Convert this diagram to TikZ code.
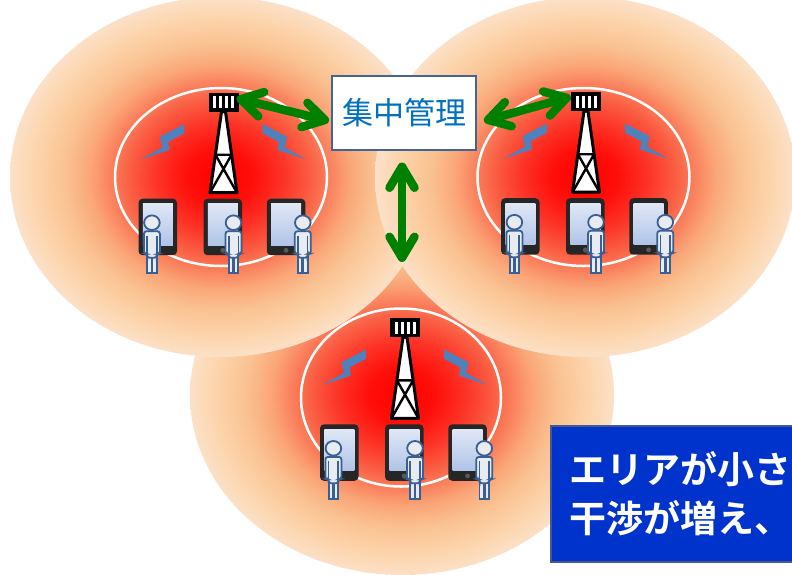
\documentclass[tikz,border=0pt]{standalone}
\usepackage{fontspec}
\newfontfamily\jpfont{Noto Sans CJK JP}[BoldFont={Noto Sans CJK JP Bold}]
\usetikzlibrary{arrows.meta,calc}

\definecolor{linkgreen}{RGB}{0,128,0}
\definecolor{boltblue}{RGB}{79,129,189}
\definecolor{userline}{RGB}{56,96,148}
\definecolor{userfill}{RGB}{232,236,241}
\definecolor{hubline}{RGB}{68,100,148}
\definecolor{hubtext}{RGB}{0,112,192}
\definecolor{msgfill}{RGB}{0,51,204}
\definecolor{msgline}{RGB}{70,88,140}
\definecolor{screentop}{RGB}{224,231,246}
\definecolor{screenbot}{RGB}{176,196,232}

% coverage glow of one cell: red core fading to pale peach at the rim
% (the path's bounding box maps onto the central 50bp square, so the rim is at 25bp)
\pgfdeclareradialshading{cellglow}{\pgfpoint{0bp}{0bp}}{%
  rgb(0bp)=(1,0,0); rgb(4bp)=(1,0.06,0.04); rgb(7.5bp)=(0.99,0.2,0.15);
  rgb(11bp)=(0.98,0.38,0.27); rgb(13bp)=(0.98,0.5,0.36); rgb(15.5bp)=(0.98,0.65,0.47);
  rgb(18.5bp)=(0.98,0.76,0.57); rgb(22bp)=(0.99,0.83,0.67); rgb(25bp)=(0.99,0.88,0.78);
  rgb(50bp)=(0.99,0.88,0.78)}

\tikzset{
  antbox/.style={rectangle, fill=black, minimum width=30pt, minimum height=19pt, inner sep=0pt},
  mast/.style={draw=black, fill=white, line width=3pt, line join=round},
  lattice/.style={draw=black, line width=2.4pt},
  ring/.style={draw=white, line width=2.5pt},
  tabletbody/.style={fill=black!85, rounded corners=4pt},
  screen/.style={top color=screentop, bottom color=screenbot},
  person/.style={draw=userline, fill=userfill, line width=1.8pt},
  hubbox/.style={draw=hubline, line width=2pt, fill=white, minimum width=144pt,
    minimum height=74pt, inner sep=0pt, text=hubtext, font=\jpfont\fontsize{31}{36}\selectfont},
  msgbox/.style={draw=msgline, line width=2pt, fill=msgfill, minimum width=262pt,
    minimum height=136pt, inner sep=0pt},
  msgtext/.style={text=white, inner sep=0pt, font=\jpfont\bfseries\fontsize{37}{44}\selectfont},
  link/.style={draw=linkgreen, line width=8.5pt,
    {Straight Barb[round,length=21pt,width=25pt]}-{Straight Barb[round,length=21pt,width=25pt]}},
  pics/cellsite/.style={code={
    % antenna head with its four slots
    \node[antbox] (-ant) at (0,9.5) {};
    \foreach \sx in {-9,-3,3,9}
      \fill[white] (\sx-1.5,3.5) rectangle (\sx+1.5,15.5);
    % lattice mast
    \filldraw[mast] (-2,19) -- (2,19) -- (13.5,100) -- (-13.5,100) -- cycle;
    \draw[lattice] (-8.1,62) -- (8.1,62) (-8.1,62) -- (13.5,100) (8.1,62) -- (-13.5,100);
    % radio bolts on both sides of the mast
    \foreach \side in {1,-1}
      \fill[boltblue, xscale=\side] (-39.2,31.3) -- (-39.2,40.6) -- (-55.2,49) -- (-54.2,57.3)
        -- (-82.5,66.6) -- (-61.2,54.6) -- (-63.5,44) -- cycle;
    % tablets, each with its user
    \foreach \tx/\ux in {-85/-71.6, -20/10, 43.3/79.3} {
      \fill[tabletbody] (\tx,106) rectangle ++(38.5,56.5);
      \shade[screen] (\tx+4.4,110.8) rectangle (\tx+34.4,152.4);
      \fill[black!65] (\tx+19.25,157.6) circle [radius=2.4pt];
      \begin{scope}[shift={(\ux,130)}]
        \filldraw[person] (-4.8,33) rectangle (-0.5,50.5);
        \filldraw[person] (0.5,33) rectangle (4.8,50.5);
        \filldraw[person, rounded corners=2.5pt] (-8,31) -- (-8,8.6) -- (8,8.6) -- (8,31)
          -- (4.8,31) -- (4.8,35) -- (-4.8,35) -- (-4.8,31) -- cycle;
        \draw[userline, line width=1.6pt] (-4.8,13) -- (-4.8,31) (4.8,13) -- (4.8,31);
        \filldraw[person] (0,0) ellipse [x radius=7.8pt, y radius=7.3pt];
      \end{scope}
    }
  }}
}

\begin{document}
\begin{tikzpicture}[x=1pt, y=-1pt]
  \useasboundingbox (0,0) rectangle (792,574);
  \clip (0,0) rectangle (792,574);

  % coverage areas (lower cell sits behind the upper two)
  \path[shading=cellglow] (402,395) ellipse [x radius=212pt, y radius=180pt];
  \path[shading=cellglow] (220,177) ellipse [x radius=210pt, y radius=180pt];
  \path[shading=cellglow] (585,177) ellipse [x radius=210pt, y radius=180pt];

  % small-cell boundaries
  \draw[ring] (221,177) ellipse [x radius=106pt, y radius=89pt];
  \draw[ring] (583.5,177) ellipse [x radius=106pt, y radius=89pt];
  \draw[ring] (401,397.5) ellipse [x radius=100pt, y radius=89pt];

  % base stations with their terminals
  \pic (L) at (223.5,92.7) {cellsite};
  \pic (R) at (586,92.2) {cellsite};
  \pic (B) at (405,318.3) {cellsite};

  % central management and its links
  \node[hubbox] (hub) at (404,112.5) {集中管理};
  \coordinate (vend) at (402,262);
  \draw[link] ($(L-ant.east)+(-2,-4)$) -- ($(hub.west)+(-2,8.5)$);
  \draw[link] ($(hub.east)+(7,8.5)$) -- ($(R-ant.west)+(0,-5)$);
  \draw[link] ($(hub.south)+(-2,12)$) -- (vend);

  % note panel
  \node[msgbox, anchor=north west] (msg) at (549.5,425) {};
  \node[msgtext, anchor=base west] (msgA) at (569,483) {エリアが小さ};
  \node[msgtext, anchor=base west] (msgB) at (569,532) {干渉が増え、};
\end{tikzpicture}
\end{document}
